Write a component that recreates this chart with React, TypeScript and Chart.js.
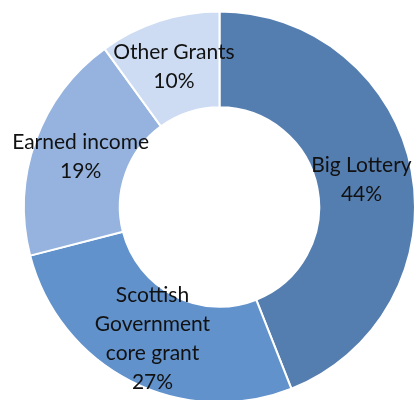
import React, { useEffect, useRef } from "react";
import { Chart, registerables } from "chart.js";

Chart.register(...registerables);

const categories = ["Big Lottery", "Scottish Government core grant", "Earned income", "Other Grants"];
const labelLines = [["Big Lottery"], ["Scottish", "Government", "core grant"], ["Earned income"], ["Other Grants"]];
const values = [44, 27, 19, 10];
const colors = ["#557eb0", "#6192cc", "#95b3de", "#cddcf3"];

const labelPlugin = {
  id: "sliceLabels",
  afterDatasetsDraw(chart: any) {
    const ctx = chart.ctx;
    const meta = chart.getDatasetMeta(0);
    ctx.save();
    ctx.font = "21px Lato";
    ctx.fillStyle = "#111";
    ctx.textAlign = "center";
    ctx.textBaseline = "middle";
    const lh = 29;
    meta.data.forEach((arc: any, i: number) => {
      const p = arc.tooltipPosition();
      const lines = [...labelLines[i], values[i] + "%"];
      const start = p.y - ((lines.length - 1) * lh) / 2;
      let x = p.x;
      if (i === 0) x -= 3;
      lines.forEach((t, j) => ctx.fillText(t, x, start + j * lh));
    });
    ctx.restore();
  },
};

export default function App() {
  const ref = useRef<HTMLCanvasElement>(null);
  useEffect(() => {
    if (!ref.current) return;
    const chart = new Chart(ref.current, {
      type: "doughnut",
      data: {
        labels: categories,
        datasets: [
          {
            data: values,
            backgroundColor: colors,
            borderColor: "#ffffff",
            borderWidth: 2,
          },
        ],
      },
      options: {
        animation: false,
        responsive: false,
        cutout: "51%",
        layout: { padding: { left: 23, right: 1, top: 10, bottom: 0 } },
        plugins: { legend: { display: false }, tooltip: { enabled: false } },
      },
      plugins: [labelPlugin],
    });
    return () => chart.destroy();
  }, []);
  return (
    <div style={{ position: "fixed", left: 0, top: 0, width: 417, height: 400, overflow: "hidden", background: "#fff" }}>
      <canvas ref={ref} width={417} height={404} style={{ width: 417, height: 404, display: "block" }} />
    </div>
  );
}
